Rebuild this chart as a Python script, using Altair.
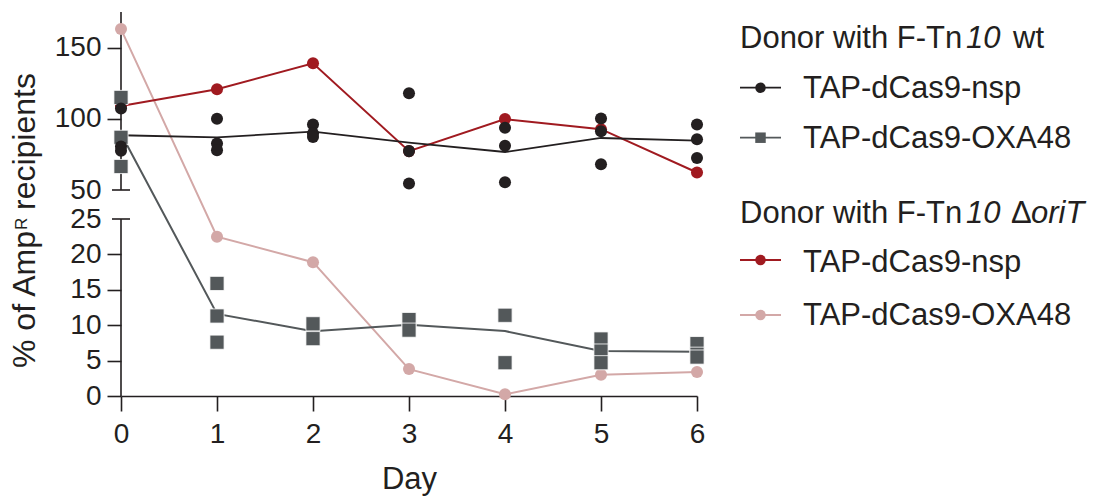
import altair as alt
import pandas as pd

# ---------------- data ----------------
days = [0, 1, 2, 3, 4, 5, 6]

# Donor with F-Tn10 wt, TAP-dCas9-nsp (replicates)
wt_nsp_day = [0, 0, 0, 1, 1, 1, 2, 2, 2, 3, 3, 3, 4, 4, 4, 5, 5, 5, 6, 6, 6]
wt_nsp_val = [107.3, 80.5, 77.5, 100.0, 82.7, 78.0, 96.0, 89.7, 87.3,
              118.0, 77.3, 54.5, 93.7, 81.0, 55.4, 100.2, 91.3, 68.1,
              96.0, 85.7, 72.5]

# Donor with F-Tn10 wt, TAP-dCas9-OXA48 (replicates)
wt_oxa_day = [0, 0, 0, 1, 1, 1, 2, 2, 3, 3, 4, 4, 4, 5, 5, 5, 6, 6, 6]
wt_oxa_val = [115.0, 87.0, 66.5, 15.9, 11.3, 7.6, 10.2, 8.1, 10.8, 9.3,
              11.4, 11.4, 4.7, 8.05, 6.35, 4.7, 7.4, 5.9, 5.5]

# Donor with F-Tn10 ΔoriT (single values)
dori_nsp_val = [109.0, 120.7, 139.0, 77.3, 99.8, 92.7, 62.3]
dori_oxa_val = [163.0, 22.5, 18.9, 3.8, 0.24, 3.0, 3.4]

y_ticks = [0, 5, 10, 15, 20, 25, 50, 100, 150]
x_ticks = days
axis_segments_lo = [0, 50]
axis_segments_hi = [25, 175]
break_caps = [25, 50]

# ---------------- style ----------------
C_BLACK = "#231f20"
C_GRAY = "#53585a"
C_RED = "#a01a20"
C_PINK = "#d3a8a7"
FONT = "Liberation Sans"

W, H = 576, 384
yscale = alt.Scale(domain=[0, 25, 50, 175], range=[H, 207, 178, 0], nice=False, zero=False)
xscale = alt.Scale(domain=[0, 6], nice=False, zero=False)

x_axis = alt.Axis(values=x_ticks, title="Day", tickSize=15, tickWidth=1.6,
                  tickColor=C_BLACK, domainColor=C_BLACK, domainWidth=1.6,
                  labelFontSize=28, labelFont=FONT, labelColor=C_BLACK, labelFlush=False,
                  labelPadding=9, titleFontSize=31, titleFont=FONT,
                  titleFontWeight="normal", titleColor=C_BLACK, titlePadding=16,
                  grid=False, format="d")
y_axis = alt.Axis(values=y_ticks, title=None, domain=False, tickSize=14,
                  tickWidth=1.6, tickColor=C_BLACK,
                  tickOpacity={"condition": {"test": "datum.value == 25 || datum.value == 50",
                                             "value": 0}, "value": 1},
                  labelFontSize=28, labelFont=FONT, labelColor=C_BLACK, labelFlush=False,
                  labelPadding=6, grid=False, format="d")

wt_nsp = pd.DataFrame({"d": wt_nsp_day, "v": wt_nsp_val})
wt_oxa = pd.DataFrame({"d": wt_oxa_day, "v": wt_oxa_val})
dori_nsp = pd.DataFrame({"d": days, "v": dori_nsp_val})
dori_oxa = pd.DataFrame({"d": days, "v": dori_oxa_val})

X = alt.X("d:Q", scale=xscale, axis=x_axis)
Y = alt.Y("v:Q", scale=yscale, axis=y_axis)
YM = alt.Y("mean(v):Q", scale=yscale, axis=y_axis)

# ΔoriT series
pink_line = alt.Chart(dori_oxa).mark_line(color=C_PINK, strokeWidth=2).encode(x=X, y=Y)
pink_pts = alt.Chart(dori_oxa).mark_point(shape="circle", filled=True, opacity=1,
                                          size=145, color=C_PINK).encode(x=X, y=Y)
red_line = alt.Chart(dori_nsp).mark_line(color=C_RED, strokeWidth=2).encode(x=X, y=Y)
red_pts = alt.Chart(dori_nsp).mark_point(shape="circle", filled=True, opacity=1,
                                         size=145, color=C_RED).encode(x=X, y=Y)

# wt series: mean lines + replicate points
gray_line = alt.Chart(wt_oxa).mark_line(color=C_GRAY, strokeWidth=2).encode(x=X, y=YM)
gray_pts = alt.Chart(wt_oxa).mark_point(shape="square", filled=True, opacity=1, size=200,
                                        color=C_GRAY, stroke="white", strokeWidth=0.8).encode(x=X, y=Y)
black_line = alt.Chart(wt_nsp).mark_line(color=C_BLACK, strokeWidth=1.8).encode(x=X, y=YM)
black_pts = alt.Chart(wt_nsp).mark_point(shape="circle", filled=True, opacity=1,
                                         size=145, color=C_BLACK).encode(x=X, y=Y)

# broken y-axis line and caps
seg = pd.DataFrame({"v": axis_segments_lo, "b": axis_segments_hi})
axis_line = alt.Chart(seg).mark_rule(color=C_BLACK, strokeWidth=1.6).encode(
    x=alt.value(0), y=Y, y2="b:Q")
caps = pd.DataFrame({"v": break_caps})
cap_rules = alt.Chart(caps).mark_rule(color=C_BLACK, strokeWidth=1.6).encode(
    x=alt.value(-9), x2=alt.value(9), y=Y)

# ---------------- custom text (y title, legend) ----------------
one = pd.DataFrame({"k": [0]})


def txt(s, x, y, size=31, style="normal", angle=0, align="left", baseline="alphabetic", color=C_BLACK):
    return alt.Chart(one).mark_text(text=s, font=FONT, fontSize=size, fontStyle=style,
                                    angle=angle, align=align, baseline=baseline,
                                    color=color).encode(x=alt.value(x), y=alt.value(y))


# y title: "% of Amp^R recipients", rotated
ytitle = [
    txt("% of Amp", -86, 356, size=32, angle=270),
    txt("R", -94, 218, size=17, angle=270),
    txt("recipients", -86, 198, size=32, angle=270),
]

legend_layers = []
legend_layers += [
    txt("Donor with F-Tn", 619, 36),
    txt("10", 845, 36, style="italic"),
    txt("wt", 892, 36),
    txt("Donor with F-Tn", 619, 211),
    txt("10", 845, 211, style="italic"),
    txt("Δ", 890, 211),
    txt("oriT", 910, 211, style="italic"),
]
items = [
    ("TAP-dCas9-nsp", C_BLACK, "circle", 75.7, 86),
    ("TAP-dCas9-OXA48", C_GRAY, "square", 125.7, 136),
    ("TAP-dCas9-nsp", C_RED, "circle", 248, 259.7),
    ("TAP-dCas9-OXA48", C_PINK, "circle", 303, 313),
]
for label, col, shp, ym, yb in items:
    legend_layers.append(alt.Chart(one).mark_rule(color=col, strokeWidth=1.8).encode(
        x=alt.value(619), x2=alt.value(660), y=alt.value(ym)))
    legend_layers.append(alt.Chart(one).mark_point(shape=shp, filled=True, opacity=1,
                                                   size=110, color=col).encode(
        x=alt.value(639.5), y=alt.value(ym)))
    legend_layers.append(txt(label, 682, yb))

chart = alt.layer(
    axis_line, cap_rules,
    pink_line, red_line, pink_pts, red_pts,
    gray_line, black_line, gray_pts, black_pts,
    *ytitle, *legend_layers,
).properties(
    width=W, height=H,
    autosize=alt.AutoSizeParams(type="none"),
    padding={"left": 113, "top": 4, "right": 392, "bottom": 101},
).configure(background="white").configure_view(strokeWidth=0, stroke="transparent")

chart.save("out.html", embed_options={"renderer": "svg", "actions": False})
